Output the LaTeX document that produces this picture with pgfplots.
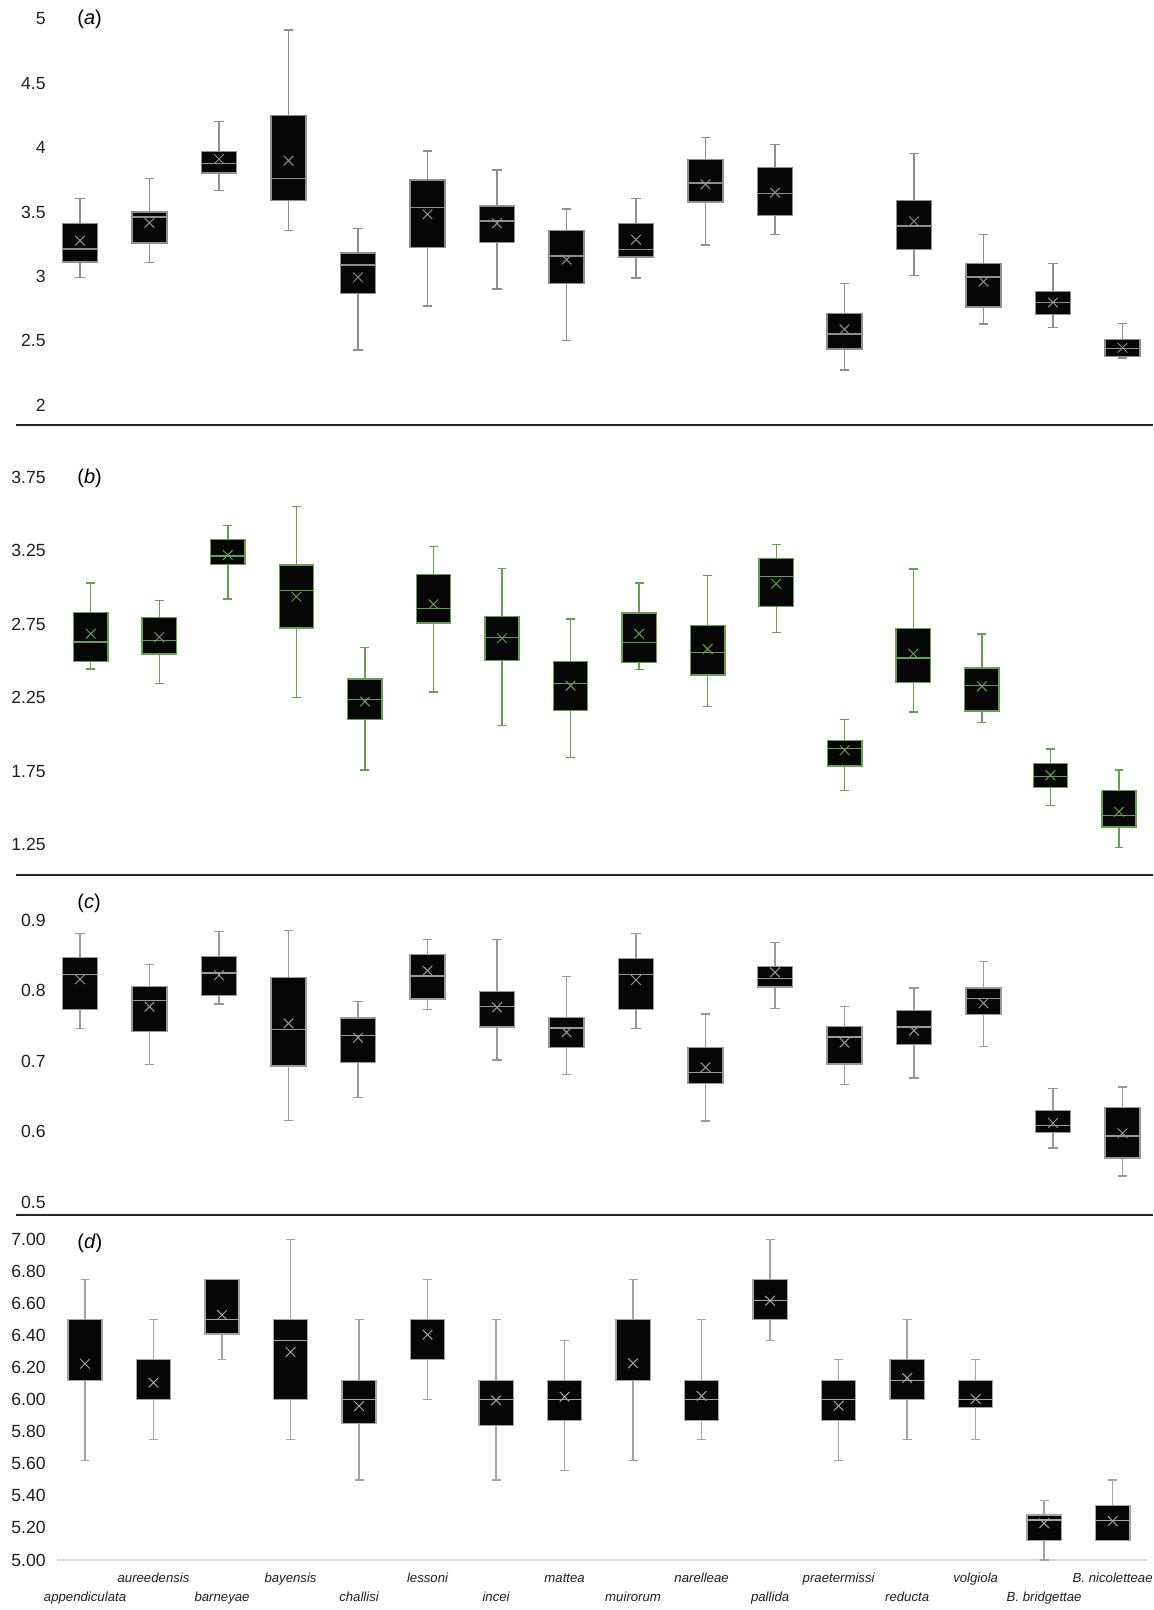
\documentclass[border=0pt]{standalone}
\usepackage{fontspec}
\setmainfont{Liberation Sans}
\usepackage{pgfplots}
\pgfplotsset{compat=1.18}
\usepackage{pgfplotstable}
\usepgfplotslibrary{statistics}

\definecolor{boxfill}{HTML}{060606}
\definecolor{ga}{HTML}{8E8E8E}
\definecolor{gb}{RGB}{104,158,82}
\definecolor{gc}{HTML}{999999}
\definecolor{gd}{HTML}{A4A4A4}

% panel (a)
\pgfplotstableread{
pos lw lq med uq uw mean
0 2.990 3.111 3.212 3.412 3.603 3.277
1 3.109 3.259 3.461 3.500 3.759 3.415
2 3.666 3.803 3.879 3.972 4.202 3.912
3 3.355 3.588 3.762 4.249 4.915 3.899
4 2.428 2.865 3.088 3.181 3.370 2.993
5 2.770 3.223 3.534 3.749 3.974 3.482
6 2.902 3.262 3.430 3.547 3.826 3.412
7 2.500 2.943 3.158 3.358 3.523 3.130
8 2.987 3.150 3.210 3.409 3.603 3.285
9 3.244 3.578 3.725 3.910 4.078 3.715
10 3.324 3.471 3.645 3.845 4.023 3.650
11 2.272 2.435 2.552 2.710 2.946 2.588
12 3.005 3.210 3.391 3.591 3.953 3.428
13 2.630 2.762 2.995 3.101 3.327 2.959
14 2.601 2.704 2.797 2.883 3.099 2.797
15 2.365 2.379 2.438 2.508 2.635 2.445
}\tabA

% panel (b)
\pgfplotstableread{
pos lw lq med uq uw mean
0 2.446 2.496 2.630 2.829 3.031 2.686
1 2.346 2.548 2.641 2.795 2.913 2.662
2 2.922 3.156 3.215 3.328 3.423 3.221
3 2.253 2.725 2.981 3.153 3.550 2.938
4 1.759 2.104 2.240 2.378 2.593 2.224
5 2.289 2.759 2.859 3.087 3.278 2.886
6 2.063 2.505 2.659 2.804 3.131 2.655
7 1.845 2.162 2.349 2.496 2.786 2.332
8 2.444 2.491 2.627 2.827 3.031 2.686
9 2.192 2.405 2.559 2.741 3.081 2.582
10 2.695 2.872 3.074 3.199 3.294 3.026
11 1.621 1.786 1.904 1.961 2.101 1.893
12 2.153 2.353 2.521 2.723 3.126 2.550
13 2.081 2.160 2.332 2.453 2.684 2.328
14 1.516 1.638 1.716 1.802 1.902 1.723
15 1.230 1.371 1.451 1.618 1.759 1.475
}\tabB

% panel (c)
\pgfplotstableread{
pos lw lq med uq uw mean
0 0.7466 0.7730 0.8225 0.8466 0.8806 0.8160
1 0.6956 0.7423 0.7857 0.8061 0.8372 0.7772
2 0.7810 0.7934 0.8250 0.8480 0.8835 0.8217
3 0.6163 0.6932 0.7447 0.8188 0.8853 0.7535
4 0.6483 0.6984 0.7367 0.7612 0.7843 0.7333
5 0.7730 0.7881 0.8207 0.8514 0.8726 0.8282
6 0.7017 0.7484 0.7777 0.7990 0.8726 0.7763
7 0.6814 0.7191 0.7470 0.7617 0.8197 0.7409
8 0.7466 0.7730 0.8225 0.8457 0.8811 0.8150
9 0.6150 0.6687 0.6842 0.7191 0.7669 0.6913
10 0.7749 0.8051 0.8174 0.8344 0.8684 0.8259
11 0.6672 0.6960 0.7343 0.7489 0.7772 0.7263
12 0.6762 0.7239 0.7484 0.7716 0.8037 0.7432
13 0.7205 0.7659 0.7886 0.8037 0.8410 0.7820
14 0.5770 0.5987 0.6091 0.6299 0.6610 0.6125
15 0.5374 0.5629 0.5941 0.6347 0.6635 0.5979
}\tabC

% panel (d)
\pgfplotstableread{
pos lw lq med uq uw mean
0 5.620 6.120 6.500 6.500 6.750 6.224
1 5.750 6.000 6.000 6.250 6.500 6.106
2 6.250 6.410 6.500 6.750 6.750 6.528
3 5.750 6.000 6.370 6.500 7.000 6.297
4 5.500 5.850 6.000 6.120 6.500 5.960
5 6.000 6.250 6.500 6.500 6.750 6.405
6 5.500 5.840 6.000 6.120 6.500 5.996
7 5.560 5.870 6.000 6.120 6.370 6.018
8 5.620 6.120 6.500 6.500 6.750 6.227
9 5.750 5.870 6.000 6.120 6.500 6.023
10 6.370 6.500 6.620 6.750 7.000 6.617
11 5.620 5.870 6.000 6.120 6.250 5.962
12 5.750 6.000 6.120 6.250 6.500 6.135
13 5.750 5.950 6.000 6.120 6.250 6.004
14 5.000 5.120 5.250 5.280 5.370 5.229
15 5.120 5.120 5.245 5.340 5.500 5.243
}\tabD

\newcommand{\drawboxes}[2]{%
  \pgfplotsinvokeforeach{0,...,15}{%
    \pgfplotstablegetelem{##1}{lw}\of#1\edef\vlw{\pgfplotsretval}%
    \pgfplotstablegetelem{##1}{lq}\of#1\edef\vlq{\pgfplotsretval}%
    \pgfplotstablegetelem{##1}{med}\of#1\edef\vmed{\pgfplotsretval}%
    \pgfplotstablegetelem{##1}{uq}\of#1\edef\vuq{\pgfplotsretval}%
    \pgfplotstablegetelem{##1}{uw}\of#1\edef\vuw{\pgfplotsretval}%
    \edef\tmpcmd{\noexpand\addplot[draw=#2, fill=boxfill, line width=0.7pt,
      boxplot prepared={draw position=##1,
        lower whisker=\vlw, lower quartile=\vlq, median=\vmed,
        upper quartile=\vuq, upper whisker=\vuw}] coordinates {};}%
    \tmpcmd
  }
  \addplot[only marks, mark=x, mark size=3.4pt, color=#2,
    mark options={line width=0.5pt}] table[x=pos, y=mean] {#1};
}

\pgfplotsset{
  panel/.style={
    scale only axis, width=546.5pt, clip=false,
    axis line style={draw=none}, tick style={draw=none},
    major tick length=0pt, xtick=\empty,
    boxplot/draw direction=y,
    boxplot/box extend=0.5, boxplot/whisker extend=0.13,
    /pgf/number format/assume math mode=true,
    yticklabel style={anchor=east, inner sep=0pt, xshift=-5.5pt,
      font=\fontsize{8.8}{10}\selectfont, text=black!88},
  }
}

\begin{document}
\begin{tikzpicture}
\useasboundingbox (0,0) rectangle (576.5pt,805pt);

% (a)
\begin{axis}[panel, at={(28.5pt,600pt)}, anchor=south west, height=200pt,
  xmin=-0.331, xmax=15.396, ymin=1.9612, ymax=5.0699,
  ytick={2,2.5,3,3.5,4,4.5,5}]
\drawboxes{\tabA}{ga}
\end{axis}

% (b)
\begin{axis}[panel, at={(28.5pt,372.5pt)}, anchor=south west, height=217.5pt,
  xmin=-0.492, xmax=15.453, ymin=1.1126, ymax=4.0718,
  ytick={1.25,1.75,2.25,2.75,3.25,3.75},
  yticklabel style={/pgf/number format/.cd, fixed, fixed zerofill, precision=2}]
\drawboxes{\tabB}{gb}
\end{axis}

% (c)
\begin{axis}[panel, at={(28.5pt,201pt)}, anchor=south west, height=164pt,
  xmin=-0.331, xmax=15.396, ymin=0.49207, ymax=0.95666,
  ytick={0.5,0.6,0.7,0.8,0.9},
  yticklabel style={/pgf/number format/.cd, fixed, fixed zerofill, precision=1}]
\drawboxes{\tabC}{gc}
\end{axis}

% (d)
\begin{axis}[panel, at={(28.5pt,25pt)}, anchor=south west, height=170pt,
  xmin=-0.409, xmax=15.545, ymin=5, ymax=7.1204,
  ytick={5,5.2,5.4,5.6,5.8,6,6.2,6.4,6.6,6.8,7},
  yticklabel style={/pgf/number format/.cd, fixed, fixed zerofill, precision=2},
  xtick={0,...,15},
  xticklabels={appendiculata, \raisebox{9pt}{aureedensis}, barneyae, \raisebox{9pt}{bayensis},
    challisi, \raisebox{9pt}{lessoni}, incei, \raisebox{9pt}{mattea}, muirorum,
    \raisebox{9pt}{narelleae}, pallida, \raisebox{9pt}{praetermissi}, reducta,
    \raisebox{9pt}{volgiola}, B. bridgettae, \raisebox{9pt}{B. nicoletteae}},
  xticklabel style={anchor=base, inner sep=0pt, yshift=-20.5pt,
    font=\itshape\fontsize{6.6}{8}\selectfont, text=black!88}]
\draw[color=black!15, line width=0.8pt] (rel axis cs:0,0) -- (rel axis cs:0.997,0);
\drawboxes{\tabD}{gd}
\end{axis}

% panel letters
\node[anchor=west, inner sep=0pt, font=\fontsize{10}{12}\selectfont] at (38.5pt,795.5pt) {(\textit{a})};
\node[anchor=west, inner sep=0pt, font=\fontsize{10}{12}\selectfont] at (38.5pt,566pt) {(\textit{b})};
\node[anchor=west, inner sep=0pt, font=\fontsize{10}{12}\selectfont] at (38.5pt,353.5pt) {(\textit{c})};
\node[anchor=west, inner sep=0pt, font=\fontsize{10}{12}\selectfont] at (38.5pt,183.5pt) {(\textit{d})};

% separators
\draw[line width=1pt, color=black!85] (8pt,592.5pt) -- (576.5pt,592.5pt);
\draw[line width=1pt, color=black!85] (8pt,367.5pt) -- (576.5pt,367.5pt);
\draw[line width=1pt, color=black!85] (8pt,197.5pt) -- (576.5pt,197.5pt);
\end{tikzpicture}
\end{document}
